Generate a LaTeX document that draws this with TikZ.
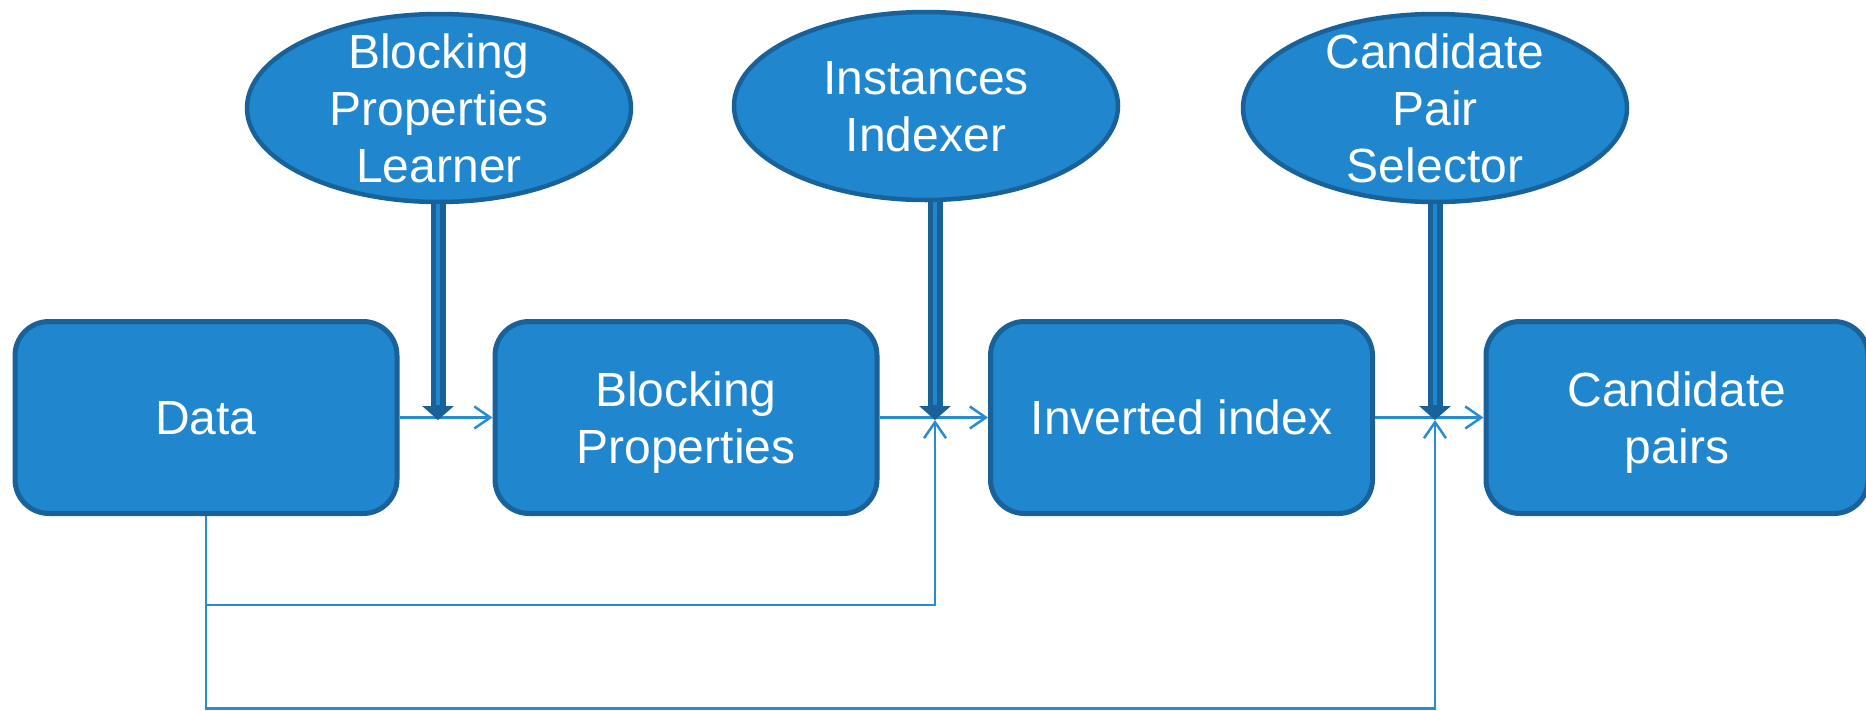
\documentclass[tikz,border=0pt]{standalone}
\usepackage{fontspec}
\setmainfont{Liberation Sans}
\usetikzlibrary{shapes.geometric,arrows.meta}
\definecolor{boxfill}{RGB}{32,134,206}
\definecolor{boxline}{RGB}{24,98,153}
\definecolor{thinline}{RGB}{40,140,212}
\begin{document}
\begin{tikzpicture}[x=1pt,y=-1pt,
  procbox/.style={draw=boxline, line width=5pt, fill=boxfill, rounded corners=34pt,
    minimum width=382pt, minimum height=192pt, inner sep=0pt, text=white,
    font=\fontsize{48}{57}\selectfont, align=center, text depth=0pt},
  agent/.style={ellipse, draw=boxline, line width=4.5pt, fill=boxfill,
    minimum width=384pt, minimum height=188pt, inner xsep=0pt, inner ysep=-12pt, text=white,
    font=\fontsize{48}{57}\selectfont, align=center, text depth=0pt},
  flow/.style={draw=thinline, line width=2.5pt, -{Straight Barb[length=16pt,width=22pt]}},
  feedarrow/.style={draw=boxline, line width=15pt, -{Triangle[width=31pt,length=14pt]}},
  feedcore/.style={draw=boxfill, line width=4pt, shorten >=15pt},
]
\useasboundingbox (0,0) rectangle (1866,710);

% process boxes
\node[procbox] (data) at (206,417.5) {Data};
\node[procbox] (bp)   at (686,417.5) {Blocking\\Properties};
\node[procbox] (inv)  at (1181.5,417.5) {Inverted index};
\node[procbox] (cp)   at (1677,417.5) {Candidate\\pairs};

% agents
\node[agent] (bpl) at (439,108) {Blocking\\Properties\\Learner};
\node[agent] (ii)  at (926,106) {Instances\\Indexer};
\node[agent] (cps) at (1435,108) {Candidate\\Pair\\Selector};

% arrow meeting points
\coordinate (t1) at (438,420);
\coordinate (t2) at (935,420);
\coordinate (t3) at (1435,420);
\coordinate (r1) at (935,605);
\coordinate (r2) at (1435,708.5);

% thin flows
\draw[flow] (data.east) -- (bp.west);
\draw[flow] (bp.east) -- (inv.west);
\draw[flow] (inv.east) -- (cp.west);
\draw[flow] (data.south) |- (r1) -- (t2);
\draw[flow] (data.south) |- (r2) -- (t3);

% thick feeds
\draw[feedarrow] (bpl.south -| t1) -- (t1);
\draw[feedcore]  (bpl.south -| t1) -- (t1);
\draw[feedarrow] (ii.south -| t2) -- (t2);
\draw[feedcore]  (ii.south -| t2) -- (t2);
\draw[feedarrow] (cps.south -| t3) -- (t3);
\draw[feedcore]  (cps.south -| t3) -- (t3);
\end{tikzpicture}
\end{document}
